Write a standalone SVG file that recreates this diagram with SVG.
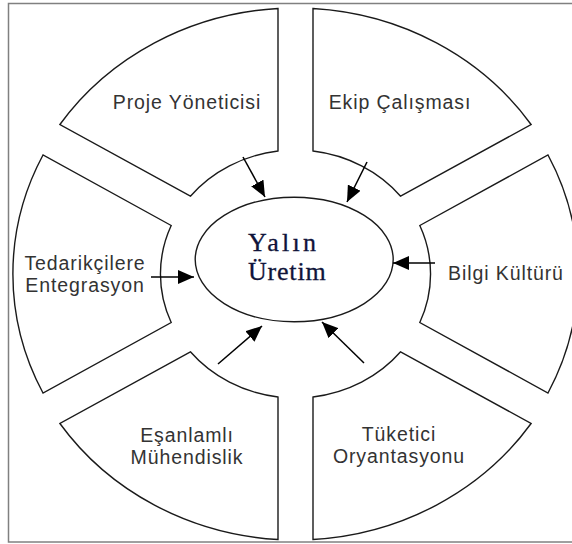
<svg xmlns="http://www.w3.org/2000/svg" width="572" height="544" viewBox="0 0 572 544">
  <defs>
    <marker id="ah" markerUnits="userSpaceOnUse" markerWidth="17" markerHeight="14" refX="16" refY="7" orient="auto">
      <path d="M0,0 L16,7 L0,14 Z" fill="#000"/>
    </marker>
    <style>
      .seg { fill: #fff; stroke: #1a1a1a; stroke-width: 1.4; stroke-linejoin: miter; }
      .lbl { font-family: "Liberation Sans", Arial, sans-serif; font-size: 19.5px; letter-spacing: 0.9px; fill: #333; text-anchor: middle; }
      .ctr { font-family: "Liberation Serif", "Times New Roman", serif; font-size: 26px; fill: #10143a; stroke: #10143a; stroke-width: 0.3; }
      .conn { stroke: #000; stroke-width: 1.5; fill: none; marker-end: url(#ah); }
    </style>
  </defs>
  <rect width="572" height="544" fill="#fff"/>
  <rect x="8.5" y="3.5" width="570" height="538.5" fill="none" stroke="#808080" stroke-width="1.5"/>

  <g id="proje-yoneticisi">
    <path class="seg" d="M278 8.5 L278 151 A135 124 0 0 0 190.4 196.2 L59.9 124.5 A285 266 0 0 1 278 8.5 Z"/>
    <text class="lbl" x="187" y="109">Proje Yöneticisi</text>
  </g>
  <g id="ekip-calismasi">
    <path class="seg" d="M313 8.5 L313 151 A135 124 0 0 1 400.6 196.2 L531.1 124.5 A285 266 0 0 0 313 8.5 Z"/>
    <text class="lbl" x="400" y="109">Ekip Çalışması</text>
  </g>
  <g id="bilgi-kulturu">
    <path class="seg" d="M419.8 225.5 L548 155 A285 266 0 0 1 548 393 L419.8 322.5 A135 124 0 0 0 419.8 225.5 Z"/>
    <text class="lbl" x="506" y="280">Bilgi Kültürü</text>
  </g>
  <g id="tedarikcilere-entegrasyon">
    <path class="seg" d="M171.2 225.5 L43 155 A285 266 0 0 0 43 393 L171.2 322.5 A135 124 0 0 1 171.2 225.5 Z"/>
    <text class="lbl" x="85" y="270">Tedarikçilere</text>
    <text class="lbl" x="85" y="292">Entegrasyon</text>
  </g>
  <g id="esanlamli-muhendislik">
    <path class="seg" d="M278 539.5 L278 397 A135 124 0 0 1 190.4 351.8 L59.9 423.5 A285 266 0 0 0 278 539.5 Z"/>
    <text class="lbl" x="187" y="442">Eşanlamlı</text>
    <text class="lbl" x="187" y="464">Mühendislik</text>
  </g>
  <g id="tuketici-oryantasyonu">
    <path class="seg" d="M313 539.5 L313 397 A135 124 0 0 0 400.6 351.8 L531.1 423.5 A285 266 0 0 1 313 539.5 Z"/>
    <text class="lbl" x="399" y="441">Tüketici</text>
    <text class="lbl" x="399" y="463">Oryantasyonu</text>
  </g>
  <g id="yalin-uretim">
    <ellipse cx="294.2" cy="259.5" rx="99" ry="62.3" fill="#fff" stroke="#1a1a1a" stroke-width="1.4"/>
    <text class="ctr" x="248" y="251" letter-spacing="3.2">Yalın</text>
    <text class="ctr" x="248" y="280" letter-spacing="0.8">Üretim</text>
  </g>

  <g id="connectors">
    <line class="conn" x1="243" y1="157" x2="265" y2="197"/>
    <line class="conn" x1="367" y1="162" x2="347" y2="202"/>
    <line class="conn" x1="151" y1="277" x2="194" y2="277"/>
    <line class="conn" x1="435" y1="263" x2="393" y2="263"/>
    <line class="conn" x1="218" y1="364" x2="262" y2="326"/>
    <line class="conn" x1="364" y1="363" x2="322" y2="322"/>
  </g>
</svg>
